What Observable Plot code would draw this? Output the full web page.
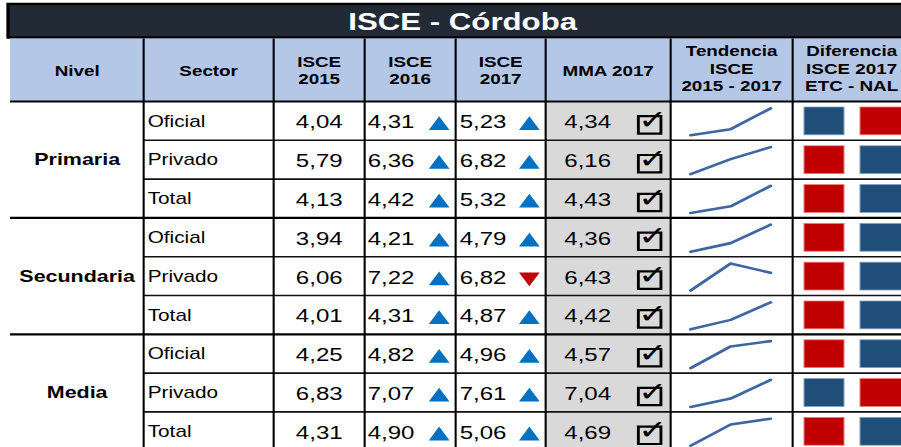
<!DOCTYPE html>
<html>
<head>
<meta charset="utf-8">
<script src="https://cdn.jsdelivr.net/npm/d3@7"></script>
<script src="https://cdn.jsdelivr.net/npm/@observablehq/plot@0.6"></script>
<style>
  html, body { margin: 0; padding: 0; background: #ffffff; }
  #chart svg { display: block; }
</style>
</head>
<body>
<div id="chart"></div>
<script>
// ---------------- data ----------------
const titulo = "ISCE - Córdoba";
const encabezados = ["Nivel", "Sector", "ISCE\n2015", "ISCE\n2016", "ISCE\n2017", "MMA 2017", "Tendencia\nISCE\n2015 - 2017", "Diferencia\nISCE 2017\nETC - NAL"];
const niveles = ["Primaria", "Secundaria", "Media"];
const sectores = ["Oficial", "Privado", "Total"];
const anios = [2015, 2016, 2017];
const isce2015 = [4.04, 5.79, 4.13, 3.94, 6.06, 4.01, 4.25, 6.83, 4.31];
const isce2016 = [4.31, 6.36, 4.42, 4.21, 7.22, 4.31, 4.82, 7.07, 4.90];
const isce2017 = [5.23, 6.82, 5.32, 4.79, 6.82, 4.87, 4.96, 7.61, 5.06];
const mma2017  = [4.34, 6.16, 4.43, 4.36, 6.43, 4.42, 4.57, 7.04, 4.69];
const difETC = ["azul", "rojo", "rojo", "rojo", "rojo", "rojo", "rojo", "azul", "rojo"];
const difNAL = ["rojo", "azul", "azul", "azul", "azul", "azul", "azul", "rojo", "azul"];

// ---------------- layout & styles ----------------
const W = 901, H = 447, ESTIRA = 1.3;
const bordes = [10, 143, 273, 364, 455, 545, 670, 792, 910];
const filaInicio = 101, filaAlto = 38.8;
const fy = px => (px - filaInicio) / filaAlto;
const colores = { azul: "#1f4e79", rojo: "#c00000" };
const bordeColores = { azul: "#7f9fc4", rojo: "#ee7777" };
const fmt = v => v.toFixed(2).replace(".", ",");
const centro = k => (bordes[k] + bordes[k + 1]) / 2;

const filas = isce2015.map((v, i) => ({
  i,
  nivel: niveles[Math.floor(i / 3)],
  sector: sectores[i % 3],
  a2015: v, a2016: isce2016[i], a2017: isce2017[i], mma: mma2017[i],
  etc: difETC[i], nal: difNAL[i]
}));

const puntos = filas.flatMap(f => {
  const vals = [f.a2015, f.a2016, f.a2017];
  const mn = d3.min(vals), mx = d3.max(vals);
  return vals.map((v, k) => ({ i: f.i, anio: anios[k], t: (v - mn) / (mx - mn) }));
});

const flechas = filas.flatMap(f => [
  { i: f.i, col: 2016, sube: f.a2016 >= f.a2015 },
  { i: f.i, col: 2017, sube: f.a2017 >= f.a2016 }
]);
const flechaX = { 2016: 438.5, 2017: 528.7 };

const encab = encabezados.map((t, k) => ({ t, x: centro(k), lineas: t.split("\n").length }));

const txt = (y) => d => d.i + 0.5 + y / filaAlto;
const marcados = filas.filter(d => d.a2017 >= d.mma);

const svg = Plot.plot({
  width: Math.round(W / ESTIRA),
  height: H,
  margin: 0,
  x: { type: "linear", domain: [0, W], range: [0, Math.round(W / ESTIRA)], axis: null },
  y: { type: "linear", domain: [fy(0), fy(H)], range: [0, H], axis: null },
  color: { type: "identity" },
  style: { fontFamily: "'Liberation Sans', Arial, sans-serif", background: "#ffffff", overflow: "hidden" },
  marks: [
    // title bar
    Plot.rect([titulo], { x1: () => 8, x2: () => 915, y1: () => fy(4), y2: () => fy(37.5), fill: "#222a36", stroke: "#000", strokeWidth: 2.5 }),
    Plot.text([titulo], { x: () => 462, y: () => fy(21.5), text: d => d, fill: "#ffffff", fontWeight: "bold", fontSize: 24 }),
    // header
    Plot.rect([0], { x1: () => 10, x2: () => 915, y1: () => fy(38.5), y2: () => fy(101), fill: "#b4c7e7" }),
    Plot.text(encab, { x: "x", y: d => fy(d.lineas === 3 ? 67.5 : 69.5), text: "t", fontWeight: "bold", fontSize: 14.5, lineHeight: 1.22, fill: "#000" }),
    // MMA grey column
    Plot.rect(filas, { x1: () => bordes[5], x2: () => bordes[6], y1: d => d.i, y2: d => d.i + 1, fill: "#d9d9d9" }),
    // grid lines
    Plot.ruleY(d3.range(0, 9).filter(k => k % 3 !== 0), { y: d => d, x1: () => bordes[1], x2: () => 915, stroke: "#111", strokeWidth: 1.6 }),
    Plot.ruleY(d3.range(0, 9).filter(k => k % 3 === 0), { y: d => d, x1: () => bordes[0], x2: () => 915, stroke: "#000", strokeWidth: 2.2 }),
    Plot.ruleX(bordes.slice(1, 8), { x: d => d, y1: () => fy(38.5), y2: () => fy(H + 5), stroke: "#000", strokeWidth: 1.6 }),
    // texts
    Plot.text(filas.filter(d => d.i % 3 === 1), { x: () => centro(0), y: txt(0.5), text: "nivel", fontWeight: "bold", fontSize: 16.5, fill: "#000" }),
    Plot.text(filas, { x: () => 147, y: txt(0.5), text: "sector", textAnchor: "start", fontSize: 16, fill: "#000" }),
    Plot.text(filas, { x: () => 342, y: txt(1.5), text: d => fmt(d.a2015), textAnchor: "end", fontSize: 18.5, fill: "#000" }),
    Plot.text(filas, { x: () => 367, y: txt(1.5), text: d => fmt(d.a2016), textAnchor: "start", fontSize: 18.5, fill: "#000" }),
    Plot.text(filas, { x: () => 459, y: txt(1.5), text: d => fmt(d.a2017), textAnchor: "start", fontSize: 18.5, fill: "#000" }),
    Plot.text(filas, { x: () => 587, y: txt(1.5), text: d => fmt(d.mma), textAnchor: "middle", fontSize: 18.5, fill: "#000" }),
    // arrows
    Plot.dot(flechas.filter(d => d.sube), { x: d => flechaX[d.col], y: txt(4.5), symbol: "triangle", r: 5.9, fill: "#0070c0", stroke: "none" }),
    Plot.dot(flechas.filter(d => !d.sube), { x: d => flechaX[d.col], y: txt(1), symbol: "triangle", r: 5.9, rotate: 180, fill: "#c00000", stroke: "none" }),
    // checkboxes
    Plot.dot(marcados, { x: () => 649, y: txt(4), symbol: "square", r: 9.8, fill: "none", stroke: "#000", strokeWidth: 2.2 }),
    Plot.text(marcados, { x: () => 652, y: txt(-0.5), text: () => "✓", fontFamily: "'DejaVu Sans', sans-serif", fontWeight: "bold", fontSize: 27, fill: "#000" }),
    // sparklines
    Plot.line(puntos, { x: d => 690 + (d.anio - 2015) * 40, y: d => d.i + 1 - (5 + d.t * 27) / filaAlto, z: "i", stroke: "#3d66a3", strokeWidth: 2.6, strokeLinecap: "round", strokeLinejoin: "round" }),
    // difference squares
    Plot.rect(filas, { x1: () => 804, x2: () => 844, y1: d => d.i + 6 / filaAlto, y2: d => d.i + 1 - 5 / filaAlto, fill: d => colores[d.etc], stroke: d => bordeColores[d.etc], strokeWidth: 0.8 }),
    Plot.rect(filas, { x1: () => 860, x2: () => 905, y1: d => d.i + 6 / filaAlto, y2: d => d.i + 1 - 5 / filaAlto, fill: d => colores[d.nal], stroke: d => bordeColores[d.nal], strokeWidth: 0.8 })
  ]
});

svg.setAttribute("width", W);
svg.setAttribute("height", H);
svg.setAttribute("preserveAspectRatio", "none");
svg.style.width = W + "px";
svg.style.height = H + "px";
svg.style.maxWidth = "none";
document.getElementById("chart").appendChild(svg);
</script>
</body>
</html>
